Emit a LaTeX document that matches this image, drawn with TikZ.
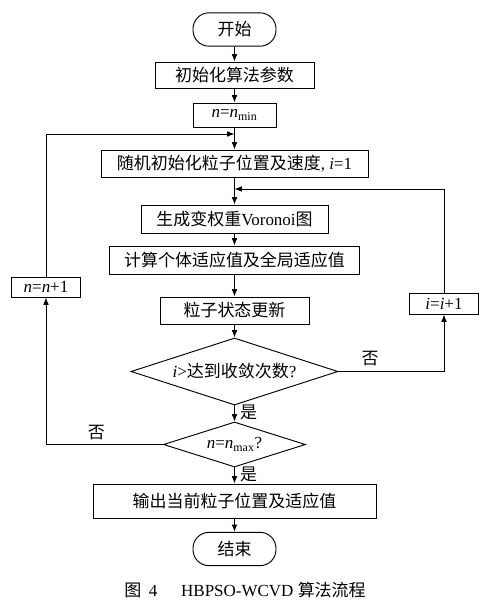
\documentclass[tikz,border=0pt]{standalone}
\usepackage{fontspec}
\setmainfont{Liberation Serif}
\newfontfamily\cjk{Noto Sans CJK SC}
\newcommand\zh[1]{{\cjk #1}}
\usepackage{tikz}
\usetikzlibrary{arrows.meta}
\usetikzlibrary{shapes.geometric}
\usetikzlibrary{calc}

\begin{document}
\begin{tikzpicture}[x=0.03cm, y=-0.03cm, line width=0.8pt,
	font=\fontsize{14.5}{17}\selectfont,
	box/.style={rectangle, draw=black, inner sep=0pt},
	term/.style={rectangle, rounded corners=0.48cm, draw=black, inner sep=0pt, minimum width=2.49cm, minimum height=1cm},
	decide/.style={diamond, draw=black, inner sep=0pt, aspect=3.1},
	flow/.style={-{Latex[length=2.2mm, width=1.7mm]}}]
	\newcommand\axis{234.5}
	\useasboundingbox (0,0) rectangle (485,603);
	% main column
	\node[term] (start) at (\axis,29.5){\zh{开始}};
	\node[box, minimum width=4.77cm, minimum height=0.78cm] (init) at (\axis,75){\zh{初始化算法参数}};
	\node[box, minimum width=2.49cm, minimum height=0.72cm] (nmin) at (\axis,115){\textit{n}=\textit{n}\textsubscript{min}};
	\node[box, minimum width=8.01cm, minimum height=0.81cm] (rand) at (\axis,163.5){\zh{随机初始化粒子位置及速度}, \textit{i}=1};
	\node[box, minimum width=5.61cm, minimum height=0.84cm] (voro) at (\axis,219){\zh{生成变权重}Voronoi\zh{图}};
	\node[box, minimum width=7.5cm, minimum height=0.84cm] (fit) at (\axis,260){\zh{计算个体适应值及全局适应值}};
	\node[box, minimum width=4.47cm, minimum height=0.81cm] (upd) at (\axis,310.5){\zh{粒子状态更新}};
	\node[decide, minimum width=6.21cm, minimum height=2.01cm] (conv) at (\axis,371.5){\textit{i}>\zh{达到收敛次数}?};
	\node[decide, minimum width=4.26cm, minimum height=1.35cm] (nmax) at (\axis,444.5){\textit{n}=\textit{n}\textsubscript{max}?};
	\node[box, minimum width=8.49cm, minimum height=1.02cm] (out) at (\axis,501){\zh{输出当前粒子位置及适应值}};
	\node[term] (stop) at (\axis,549){\zh{结束}};
	% side boxes
	\node[box, minimum width=2.07cm, minimum height=0.6cm] (ninc) at (46,287){\textit{n}=\textit{n}+1};
	\node[box, minimum width=2.07cm, minimum height=0.63cm] (iinc) at (444,303.5){\textit{i}=\textit{i}+1};
	\coordinate (outerjoin) at (\axis,134);
	\coordinate (innerjoin) at (\axis,189);
	\draw[flow] (start) -- (init);
	\draw[flow] (init) -- (nmin);
	\draw[flow] (nmin) -- (rand);
	\draw[flow] (rand) -- (voro);
	\draw[flow] (voro) -- (fit);
	\draw[flow] (fit) -- (upd);
	\draw[flow] (upd) -- (conv);
	\draw[flow] (conv) -- node[right, pos=0.45, xshift=1pt]{\zh{是}} (nmax);
	\draw[flow] (nmax) -- node[right, pos=0.45, xshift=1pt]{\zh{是}} (out);
	\draw[flow] (out) -- (stop);
	% loops
	\draw[flow] (conv.east) -- node[above, pos=0.3, yshift=1pt]{\zh{否}} (conv.east -| iinc.south) -- (iinc.south);
	\draw[flow] (iinc.north) |- (innerjoin);
	\draw[flow] (nmax.west) -- node[above, pos=0.57, yshift=0pt]{\zh{否}} (nmax.west -| ninc.south) -- (ninc.south);
	\draw[flow] (ninc.north) |- (outerjoin);
	% caption
	\node (caption) at (245,590){\zh{图}\hspace{0.45em}4\hspace{1.4em}HBPSO-WCVD\hspace{0.25em}\zh{算法流程}};
\end{tikzpicture}
\end{document}
